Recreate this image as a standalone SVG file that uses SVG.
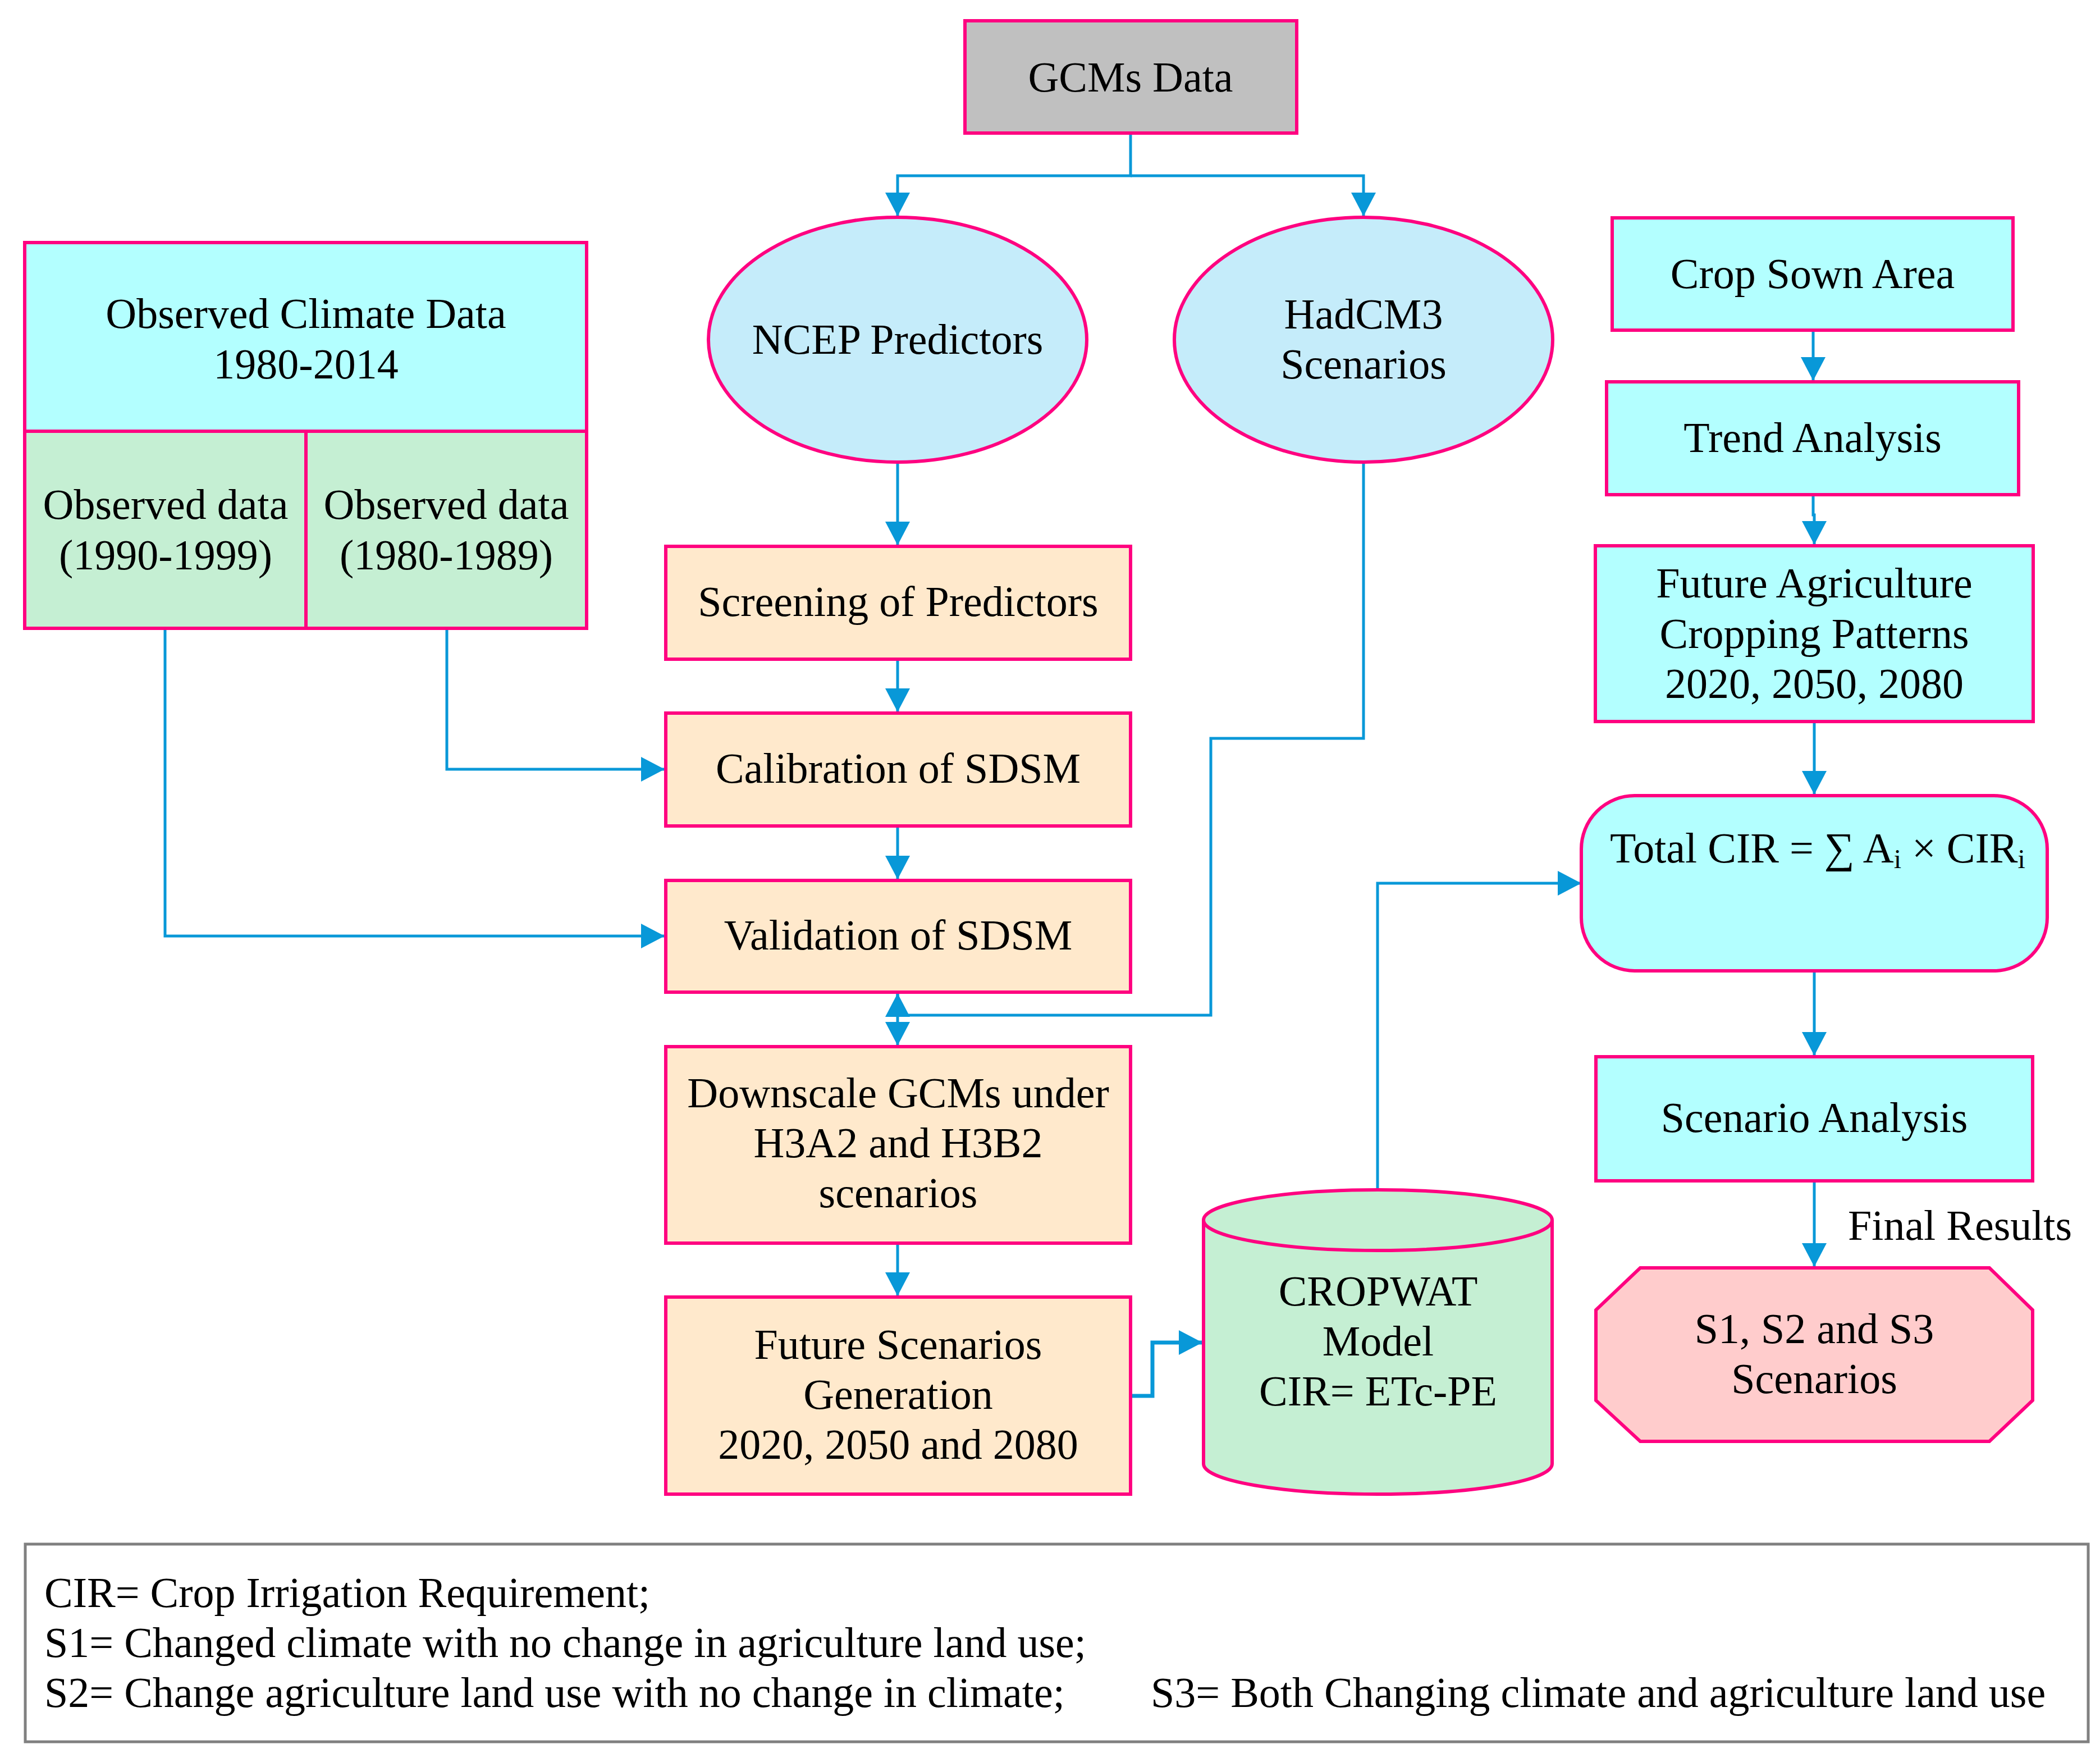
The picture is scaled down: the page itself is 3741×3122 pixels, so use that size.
<svg xmlns="http://www.w3.org/2000/svg" width="3741" height="3122" viewBox="0 0 3741 3122">
<style>
.n{stroke:#FF0080;stroke-width:6}
.t{font-family:"Liberation Serif","Times New Roman",serif;font-size:76px;fill:#000;text-anchor:middle}
.c{fill:none;stroke:#0898D8;stroke-width:5}
.gray{fill:#C0C0C0}.sky{fill:#C5ECFA}.cyan{fill:#B3FFFF}.green{fill:#C5EFD3}.tan{fill:#FFE9CC}.pink{fill:#FFCCCC}
</style>
<defs>
<marker id="ah" markerUnits="userSpaceOnUse" markerWidth="44" markerHeight="44" refX="42" refY="22" orient="auto">
<path d="M0,0 L42,22 L0,44 z" fill="#0898D8"/>
</marker>
</defs>
<rect width="3741" height="3122" fill="#fff"/>
<g id="connectors">
<path class="c" d="M2014,237 V313 H1599 V385" marker-end="url(#ah)"/>
<path class="c" d="M2014,313 H2429 V385" marker-end="url(#ah)"/>
<path class="c" d="M1599,824 V971" marker-end="url(#ah)"/>
<path class="c" d="M1599,1174 V1268" marker-end="url(#ah)"/>
<path class="c" d="M1599,1471 V1566" marker-end="url(#ah)"/>
<path class="c" d="M1599,1767 V1862" marker-end="url(#ah)"/>
<path class="c" d="M1599,2214 V2308" marker-end="url(#ah)"/>
<path class="c" d="M796,1119 V1370 H1184" marker-end="url(#ah)"/>
<path class="c" d="M294,1119 V1667 H1184" marker-end="url(#ah)"/>
<path class="c" d="M2429,824 V1315 H2157 V1808 H1599 V1769" marker-end="url(#ah)"/>
<path class="c" d="M2014,2486 H2053 V2391 H2142" style="stroke-width:7" marker-end="url(#ah)"/>
<path class="c" d="M2454,2119 V1573 H2817" marker-end="url(#ah)"/>
<path class="c" d="M3230,588 V678" marker-end="url(#ah)"/>
<path class="c" d="M3230,881 V917 H3232 V970" marker-end="url(#ah)"/>
<path class="c" d="M3232,1285 V1415" marker-end="url(#ah)"/>
<path class="c" d="M3232,1729 V1880" marker-end="url(#ah)"/>
<path class="c" d="M3232,2103 V2256" marker-end="url(#ah)"/>
</g>
<g id="gcms">
<rect class="n gray" x="1719" y="37" width="591" height="200"/>
<text class="t" x="2014" y="163">GCMs Data</text>
</g>
<g id="ncep">
<ellipse class="n sky" cx="1599" cy="605" rx="337" ry="218"/>
<text class="t" x="1599" y="630">NCEP Predictors</text>
</g>
<g id="hadcm3">
<ellipse class="n sky" cx="2429" cy="605" rx="337" ry="218"/>
<text class="t" x="2429" y="585">HadCM3</text>
<text class="t" x="2429" y="674">Scenarios</text>
</g>
<g id="observed">
<rect class="n cyan" x="44" y="432" width="1001" height="336"/>
<rect class="n green" x="44" y="768" width="501" height="351"/>
<rect class="n green" x="545" y="768" width="500" height="351"/>
<text class="t" x="545" y="584">Observed Climate Data</text>
<text class="t" x="545" y="674">1980-2014</text>
<text class="t" x="295" y="924">Observed data</text>
<text class="t" x="295" y="1014">(1990-1999)</text>
<text class="t" x="795" y="924">Observed data</text>
<text class="t" x="795" y="1014">(1980-1989)</text>
</g>
<g id="screening">
<rect class="n tan" x="1186" y="973" width="828" height="201"/>
<text class="t" x="1600" y="1097">Screening of Predictors</text>
</g>
<g id="calibration">
<rect class="n tan" x="1186" y="1270" width="828" height="201"/>
<text class="t" x="1600" y="1394">Calibration of SDSM</text>
</g>
<g id="validation">
<rect class="n tan" x="1186" y="1568" width="828" height="199"/>
<text class="t" x="1600" y="1691">Validation of SDSM</text>
</g>
<g id="downscale">
<rect class="n tan" x="1186" y="1864" width="828" height="350"/>
<text class="t" x="1600" y="1972">Downscale GCMs under</text>
<text class="t" x="1600" y="2061">H3A2 and H3B2</text>
<text class="t" x="1600" y="2150">scenarios</text>
</g>
<g id="future-scenarios">
<rect class="n tan" x="1186" y="2310" width="828" height="351"/>
<text class="t" x="1600" y="2420">Future Scenarios</text>
<text class="t" x="1600" y="2509">Generation</text>
<text class="t" x="1600" y="2598">2020, 2050 and 2080</text>
</g>
<g id="cropwat">
<path class="n green" d="M2144,2173 V2607 A310.5,54 0 0 0 2765,2607 V2173 A310.5,54 0 0 0 2144,2173 Z"/>
<path class="n" fill="none" d="M2144,2173 A310.5,54 0 0 0 2765,2173"/>
<text class="t" x="2455" y="2325">CROPWAT</text>
<text class="t" x="2455" y="2414">Model</text>
<text class="t" x="2455" y="2503">CIR= ETc-PE</text>
</g>
<g id="crop-sown">
<rect class="n cyan" x="2872" y="388" width="714" height="200"/>
<text class="t" x="3229" y="513">Crop Sown Area</text>
</g>
<g id="trend">
<rect class="n cyan" x="2862" y="680" width="734" height="201"/>
<text class="t" x="3229" y="805">Trend Analysis</text>
</g>
<g id="future-agri">
<rect class="n cyan" x="2842" y="972" width="780" height="313"/>
<text class="t" x="3232" y="1064">Future Agriculture</text>
<text class="t" x="3232" y="1154">Cropping Patterns</text>
<text class="t" x="3232" y="1243">2020, 2050, 2080</text>
</g>
<g id="total-cir">
<rect class="n cyan" x="2817" y="1417" width="830" height="312" rx="95" ry="95"/>
<text class="t" x="3238" y="1536">Total CIR = ∑ A<tspan font-size="48" dy="10">i</tspan><tspan dy="-10"> × CIR</tspan><tspan font-size="48" dy="10">i</tspan></text>
</g>
<g id="scenario-analysis">
<rect class="n cyan" x="2843" y="1882" width="778" height="221"/>
<text class="t" x="3232" y="2016">Scenario Analysis</text>
</g>
<g id="final-label">
<text class="t" x="3292" y="2208" style="text-anchor:start">Final Results</text>
</g>
<g id="results">
<polygon class="n pink" points="2922,2258 3544,2258 3621,2333 3621,2494 3544,2567 2922,2567 2843,2494 2843,2333"/>
<text class="t" x="3232" y="2392">S1, S2 and S3</text>
<text class="t" x="3232" y="2481">Scenarios</text>
</g>
<g id="legend">
<rect x="45" y="2750" width="3675" height="352" fill="#fff" stroke="#808080" stroke-width="5"/>
<text class="t" x="79" y="2862" style="text-anchor:start">CIR= Crop Irrigation Requirement;</text>
<text class="t" x="79" y="2951" style="text-anchor:start">S1= Changed climate with no change in agriculture land use;</text>
<text class="t" x="79" y="3040" style="text-anchor:start">S2= Change agriculture land use with no change in climate;</text>
<text class="t" x="2050" y="3040" style="text-anchor:start">S3= Both Changing climate and agriculture land use</text>
</g>
</svg>
